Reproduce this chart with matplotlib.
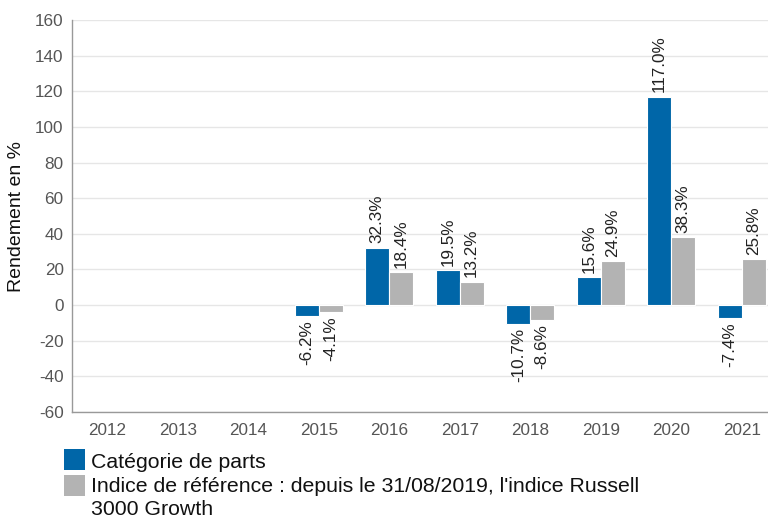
import numpy as np
import matplotlib
matplotlib.use("Agg")
import matplotlib.pyplot as plt
from matplotlib.patches import Rectangle

plt.rcParams['font.family'] = ['Liberation Sans', 'DejaVu Sans']
plt.rcParams['axes.unicode_minus'] = False

years = ["2012", "2013", "2014", "2015", "2016", "2017", "2018", "2019", "2020", "2021"]
share_class = [np.nan, np.nan, np.nan, -6.2, 32.3, 19.5, -10.7, 15.6, 117.0, -7.4]
benchmark = [np.nan, np.nan, np.nan, -4.1, 18.4, 13.2, -8.6, 24.9, 38.3, 25.8]
series_names = ["Catégorie de parts",
                "Indice de référence : depuis le 31/08/2019, l'indice Russell\n3000 Growth"]
colors = ["#0066A8", "#B3B3B3"]

W, H = 768, 518
fig = plt.figure(figsize=(W / 100, H / 100), dpi=100)
ax = fig.add_axes([72 / W, (H - 412) / H, 705 / W, 392 / H])

x = np.arange(len(years))
bw = 0.34
for vals, off, col in [(share_class, -bw / 2, colors[0]), (benchmark, bw / 2, colors[1])]:
    v = np.array(vals, dtype=float)
    ax.bar(x + off, v, width=bw, color=col, edgecolor="white", linewidth=0.8, zorder=3)
    for xi, vi in zip(x + off, v):
        if np.isnan(vi):
            continue
        if vi >= 0:
            ax.annotate(f"{vi:.1f}%", (xi, vi), xytext=(0, 3), textcoords="offset points",
                        rotation=90, ha="center", va="bottom", fontsize=12.3, color="#222222")
        else:
            ax.annotate(f"{vi:.1f}%", (xi, vi), xytext=(0, -3), textcoords="offset points",
                        rotation=90, ha="center", va="top", fontsize=12.3, color="#222222")

ax.set_xlim(-0.5, len(years) - 0.5)
ax.set_ylim(-60, 160)
ax.set_yticks(np.arange(-60, 161, 20))
ax.set_xticks(x)
ax.set_xticklabels(years)
ax.grid(axis="y", color="#E6E6E6", linewidth=1, zorder=0)
ax.set_axisbelow(True)
for s in ["top", "right"]:
    ax.spines[s].set_visible(False)
for s in ["left", "bottom"]:
    ax.spines[s].set_color("#999999")
    ax.spines[s].set_linewidth(1)
ax.tick_params(axis="both", length=0, labelsize=12.3, labelcolor="#555555")
ax.tick_params(axis="y", pad=6)
ax.tick_params(axis="x", pad=8)
ax.set_ylabel("Rendement en %", fontsize=14, color="#111111", labelpad=7)

# legend (manual, below the plot)
def fx(px):
    return px / W

def fy(py):
    return 1 - py / H

fig.add_artist(Rectangle((fx(64), fy(470)), 21 / W, 21 / H, transform=fig.transFigure,
                         facecolor=colors[0], edgecolor="none"))
fig.add_artist(Rectangle((fx(64), fy(496)), 21 / W, 21 / H, transform=fig.transFigure,
                         facecolor=colors[1], edgecolor="none"))
fig.text(fx(91), fy(468), series_names[0], fontsize=15.3, color="#111111", va="baseline")
fig.text(fx(91), fy(492), series_names[1].split("\n")[0], fontsize=15.3, color="#111111", va="baseline")
fig.text(fx(91), fy(515), series_names[1].split("\n")[1], fontsize=15.3, color="#111111", va="baseline")

fig.savefig("out.png", dpi=100)
